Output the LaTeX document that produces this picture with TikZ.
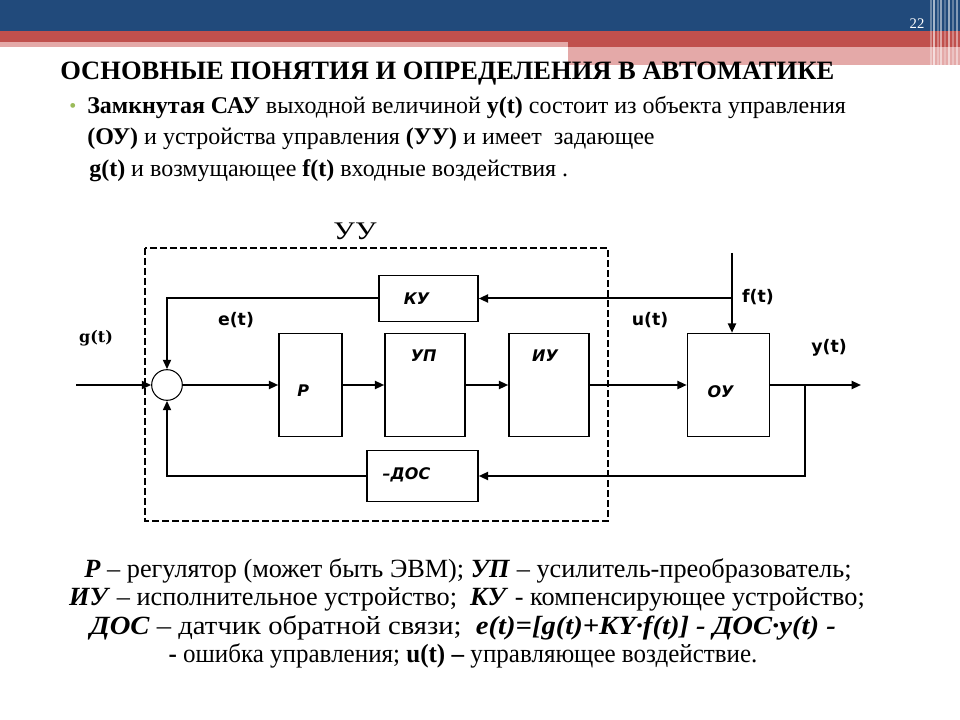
\documentclass[tikz,border=0pt]{standalone}
\usepackage{fontspec}
\setmainfont{Liberation Serif}
\newfontfamily\dejavu{DejaVu Sans}
\newfontfamily\dejavuserif{DejaVu Serif}
\usetikzlibrary{arrows.meta}
\definecolor{slideblue}{HTML}{214A7B}
\definecolor{slidered}{HTML}{C0504D}
\definecolor{slidepink}{HTML}{E4A9A8}
\definecolor{bulletgreen}{HTML}{9BBB59}
\tikzset{
  blk/.style n args={2}{draw, line width=1.1pt, inner sep=0pt,
    minimum width=#1*0.75pt, minimum height=#2*0.75pt},
  lbl/.style={font=\fontsize{12}{14}\selectfont\dejavu\bfseries\itshape},
  sig/.style={line width=1.5pt},
  arr/.style={sig, -{Triangle[length=7pt,width=6pt]}},
  sglabel/.style={font=\fontsize{13}{15}\selectfont\dejavu\bfseries},
  bodyline/.style={anchor=base west, inner sep=0pt, font=\fontsize{18}{21}\selectfont},
  noteline/.style={anchor=base, inner sep=0pt, font=\fontsize{19.7}{23}\selectfont}
}
\begin{document}
\begin{tikzpicture}[x=0.75pt, y=-0.75pt]
    \useasboundingbox (0,0) rectangle (960,720);
    % slide header
    \fill[white] (0,0) rectangle (960,720);
    \fill[slideblue] (0,0) rectangle (960,31);
    \fill[slidered] (0,31) rectangle (960,42);
    \fill[slidepink] (0,42) rectangle (568,47);
    \fill[slidered] (568,42) rectangle (960,47);
    \fill[slidepink] (568,47) rectangle (960,65);
    \foreach \sx/\op in {931/0.35, 934/0.6, 938/0.3, 941/0.5, 945/0.25, 949/0.55, 953/0.3, 957/0.45}
        \draw[white, opacity=\op, line width=1pt] (\sx,0) -- (\sx,65);
    \node[white, font=\fontsize{11}{13}\selectfont] (pnum) at (917,24) {22};

    % title and text
    \node[anchor=base west, inner sep=0pt, font=\fontsize{19.9}{24}\selectfont\bfseries] (title) at (60,80)
        {ОСНОВНЫЕ ПОНЯТИЯ И ОПРЕДЕЛЕНИЯ В АВТОМАТИКЕ};
    \node[bulletgreen, font=\fontsize{15}{17}\selectfont] (bul) at (73,108) {\textbullet};
    \node[bodyline] (txta) at (87,114)
        {\textbf{Замкнутая САУ} выходной величиной \textbf{y(t)} состоит из объекта управления};
    \node[bodyline] (txtb) at (87,145)
        {\textbf{(ОУ)} и устройства управления \textbf{(УУ)} и имеет\ \ задающее};
    \node[bodyline] (txtc) at (89,177)
        {\textbf{g(t)} и возмущающее \textbf{f(t)} входные воздействия .};

    % block diagram
    \draw[line width=1.1pt, dash pattern=on 5pt off 2.5pt] (145,248) rectangle (608,521);
    \node[font=\fontsize{19}{22}\selectfont] (uu) at (355,231) {\scalebox{1.2}[1]{УУ}};
    \node[draw, circle, line width=0.8pt, minimum size=23pt, inner sep=0pt] (sum) at (167,385) {};
    \node[blk={99}{46}, label={[lbl, xshift=-9pt]center:КУ}] (ku) at (428.5,298.5) {};
    \node[blk={63}{103}, label={[lbl, xshift=-5.5pt, yshift=-4pt]center:Р}] (reg) at (310.5,385) {};
    \node[blk={80}{103}, label={[lbl, anchor=north, yshift=-9pt, xshift=-1pt]north:УП}] (up) at (425,385) {};
    \node[blk={80}{103}, label={[lbl, anchor=north, yshift=-9pt, xshift=-3pt]north:ИУ}] (iu) at (549,385) {};
    \node[blk={82}{103}, label={[lbl, xshift=-6pt, yshift=-5pt]center:ОУ}] (ou) at (728.5,385) {};
    \node[blk={111}{51}, label={[lbl, xshift=-12pt, yshift=1pt]center:–ДОС}] (dos) at (422.5,476) {};

    \coordinate (gin) at (76,385);
    \coordinate (yout) at (861,385);
    \coordinate (ybr) at (805,385);
    \coordinate (ftop) at (732,253);
    \coordinate (fbr) at (732,298.5);

    \draw[arr] (gin) -- (sum.west);
    \draw[arr] (sum.east) -- (reg.west);
    \draw[arr] (reg.east) -- (up.west);
    \draw[arr] (up.east) -- (iu.west);
    \draw[arr] (iu.east) -- (ou.west);
    \draw[arr] (ou.east) -- (yout);
    \draw[arr] (ybr) |- (dos.east);
    \draw[arr] (dos.west) -| (sum.south);
    \draw[arr] (ftop) -- (ftop |- ou.north);
    \draw[arr] (fbr) -- (ku.east);
    \draw[arr] (ku.west) -| (sum.north);

    \node[font=\fontsize{12}{14}\selectfont\dejavuserif\bfseries] (glab) at (96,338) {g(t)};
    \node[sglabel] (elab) at (236,320) {e(t)};
    \node[sglabel] (ulab) at (650,320) {u(t)};
    \node[sglabel] (flab) at (758,297) {f(t)};
    \node[sglabel] (ylab) at (829,348) {y(t)};

    % legend under the diagram
    \node[noteline] (nota) at (468,577)
        {\textbf{\textit{Р}} -- регулятор (может быть ЭВМ); \textbf{\textit{УП}} -- усилитель-преобразователь;};
    \node[noteline] (notb) at (467,605)
        {\textbf{\textit{ИУ}} -- исполнительное устройство;\ \ \textbf{\textit{КУ}} - компенсирующее устройство;};
    \node[noteline] (notc) at (463,634)
        {\scalebox{1.09}[1]{\textbf{\textit{ДОС}} -- датчик обратной связи;\ \ \textbf{\textit{e(t)=[g(t)+KY·f(t)] - ДОС·y(t) -}}}};
    \node[noteline] (notd) at (463,662)
        {\scalebox{0.953}[1]{\textbf{-} ошибка управления; \textbf{u(t) --} управляющее воздействие.}};
\end{tikzpicture}
\end{document}
